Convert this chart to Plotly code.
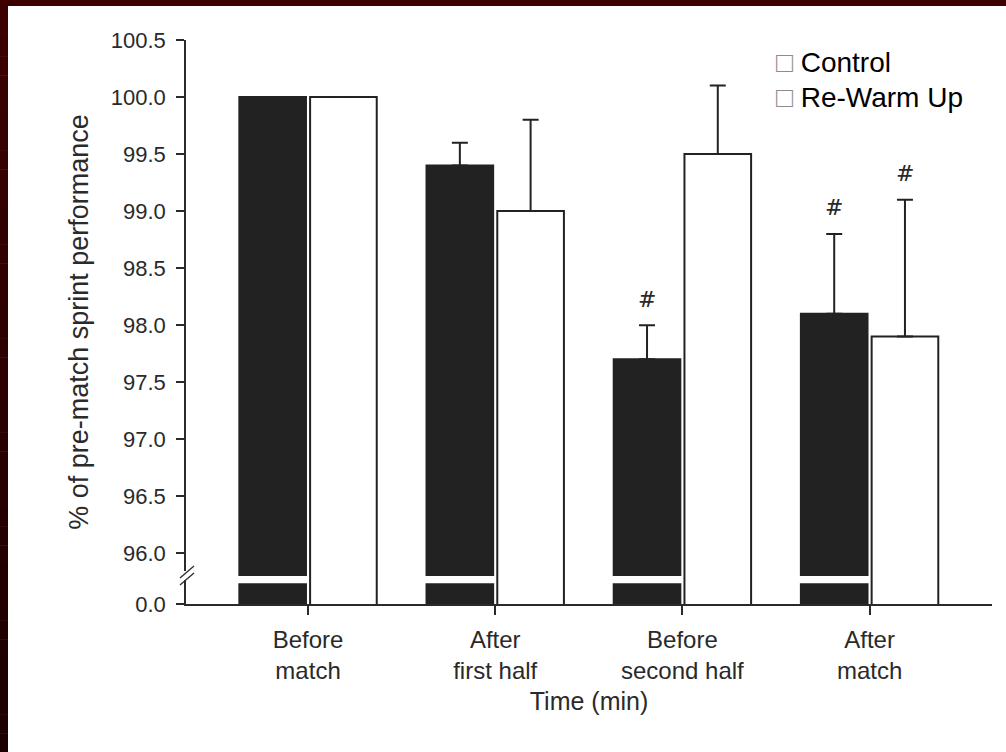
import plotly.graph_objects as go

# ---- data -------------------------------------------------------------
categories = ["Before<br>match", "After<br>first half", "Before<br>second half", "After<br>match"]
control_mean = [100.0, 99.4, 97.7, 98.1]
control_sd = [None, 0.2, 0.3, 0.7]
rewarm_mean = [100.0, 99.0, 99.5, 97.9]
rewarm_sd = [None, 0.8, 0.6, 1.2]
# '#' = significant difference vs. pre-match
control_sig = [False, False, True, True]
rewarm_sig = [False, False, False, True]

y_ticks = [96.0, 96.5, 97.0, 97.5, 98.0, 98.5, 99.0, 99.5, 100.0, 100.5]
y_tick_text = ["96.0", "96.5", "97.0", "97.5", "98.0", "98.5", "99.0", "99.5", "100.0", "100.5"]

# ---- broken-axis geometry (axis units) ---------------------------------
AXIS_FLOOR = 95.555          # bottom of the visible axis, labelled "0.0"
BREAK_LO, BREAK_HI = 95.737, 95.800

# ---- layout geometry ---------------------------------------------------
W, H = 1006, 752
PL, PR, PT, PB = 186, 992, 40, 604   # plot area in px
BAR_W = 0.356
CTRL_OFF = -0.367
RW_OFF = 0.011

INK = "#222222"
TEXT = "#2a2a2a"
FONT = "Liberation Sans, Arial, Helvetica, sans-serif"


def px_x(p):
    return (p - PL) / (PR - PL)


def px_y(p):
    return (PB - p) / (PB - PT)


x_pos = list(range(len(categories)))

fig = go.Figure()

fig.add_trace(go.Bar(
    name="Control", x=x_pos, y=control_mean,
    width=BAR_W, offset=CTRL_OFF,
    marker=dict(color=INK, line=dict(color=INK, width=2)),
    error_y=dict(type="data", symmetric=False, array=control_sd,
                 arrayminus=[0] * len(categories),
                 color=INK, thickness=2, width=8),
    showlegend=False,
))
fig.add_trace(go.Bar(
    name="Re-Warm Up", x=x_pos, y=rewarm_mean,
    width=BAR_W, offset=RW_OFF,
    marker=dict(color="white", line=dict(color=INK, width=2)),
    error_y=dict(type="data", symmetric=False, array=rewarm_sd,
                 arrayminus=[0] * len(categories),
                 color=INK, thickness=2, width=8),
    showlegend=False,
))

shapes = []
annotations = []

# gap through the solid bars at the axis break
for i in x_pos:
    shapes.append(dict(type="rect", xref="x", yref="y",
                       x0=i + CTRL_OFF - 0.01, x1=i + CTRL_OFF + BAR_W + 0.01,
                       y0=BREAK_LO, y1=BREAK_HI,
                       fillcolor="white", line=dict(width=0), layer="above"))

# break in the y-axis line with the double slash
shapes.append(dict(type="rect", xref="paper", yref="paper",
                   x0=px_x(183), x1=px_x(189), y0=px_y(580), y1=px_y(571),
                   fillcolor="white", line=dict(width=0), layer="above"))
for dy in (0, 7):
    shapes.append(dict(type="line", xref="paper", yref="paper",
                       x0=px_x(180), y0=px_y(578 + dy), x1=px_x(194), y1=px_y(566 + dy),
                       line=dict(color=TEXT, width=1.3), layer="above"))

# significance markers
for means, sds, sigs, off in ((control_mean, control_sd, control_sig, CTRL_OFF),
                              (rewarm_mean, rewarm_sd, rewarm_sig, RW_OFF)):
    for i, (m, s, sig) in enumerate(zip(means, sds, sigs)):
        if sig:
            annotations.append(dict(x=i + off + BAR_W / 2, y=m + s, xref="x", yref="y",
                                    text="<i>#</i>", showarrow=False, yanchor="middle",
                                    yshift=26,
                                    font=dict(family="DejaVu Serif, serif", size=22,
                                              color=TEXT)))

# legend (text entries)
for k, label in enumerate(["Control", "Re-Warm Up"]):
    annotations.append(dict(xref="paper", yref="paper", x=px_x(774), y=px_y(63 + 34 * k),
                            xanchor="left", yanchor="middle", showarrow=False,
                            text='<span style="color:#8c8c8c">\u25a1</span> ' + label,
                            font=dict(family=FONT, size=28, color="black")))

# page frame: dark red band on top and a shaded band on the left
shapes.append(dict(type="rect", xref="paper", yref="paper",
                   x0=px_x(0), x1=px_x(W), y0=px_y(6), y1=px_y(0),
                   fillcolor="rgb(60,0,0)", line=dict(width=0), layer="above"))
N = 40
for k in range(N):
    t = k / (N - 1)
    r = round(60 - 32 * t)
    shapes.append(dict(type="rect", xref="paper", yref="paper",
                       x0=px_x(0), x1=px_x(8),
                       y0=px_y(H * (k + 1) / N + 0.5), y1=px_y(H * k / N),
                       fillcolor=f"rgb({r},0,0)", line=dict(width=0), layer="above"))

fig.update_layout(
    width=W, height=H,
    margin=dict(l=PL, r=W - PR, t=PT, b=H - PB, autoexpand=False),
    paper_bgcolor="white", plot_bgcolor="white",
    font=dict(family=FONT, color=TEXT),
    barmode="overlay",
    shapes=shapes, annotations=annotations,
    xaxis=dict(
        range=[-0.652, 3.654], tickmode="array", tickvals=x_pos, ticktext=categories,
        showline=True, linecolor=TEXT, linewidth=1.5,
        ticks="outside", ticklen=9, tickwidth=1.5, tickcolor=TEXT,
        showgrid=False, zeroline=False, tickfont=dict(size=24, color=TEXT),
        ticklabelstandoff=4,
        title=dict(text="Time (min)", font=dict(size=25, color=TEXT), standoff=10),
    ),
    yaxis=dict(
        range=[AXIS_FLOOR, 100.5], tickmode="array",
        tickvals=[AXIS_FLOOR] + y_ticks, ticktext=["0.0"] + y_tick_text,
        showline=True, linecolor=TEXT, linewidth=1.5,
        ticks="outside", ticklen=8, tickwidth=1.5, tickcolor=TEXT,
        showgrid=False, zeroline=False, tickfont=dict(size=22, color=TEXT),
        ticklabelstandoff=6,
        title=dict(text="% of pre-match sprint performance", font=dict(size=27, color=TEXT),
                   standoff=14),
    ),
)

fig.write_html("out.html")
